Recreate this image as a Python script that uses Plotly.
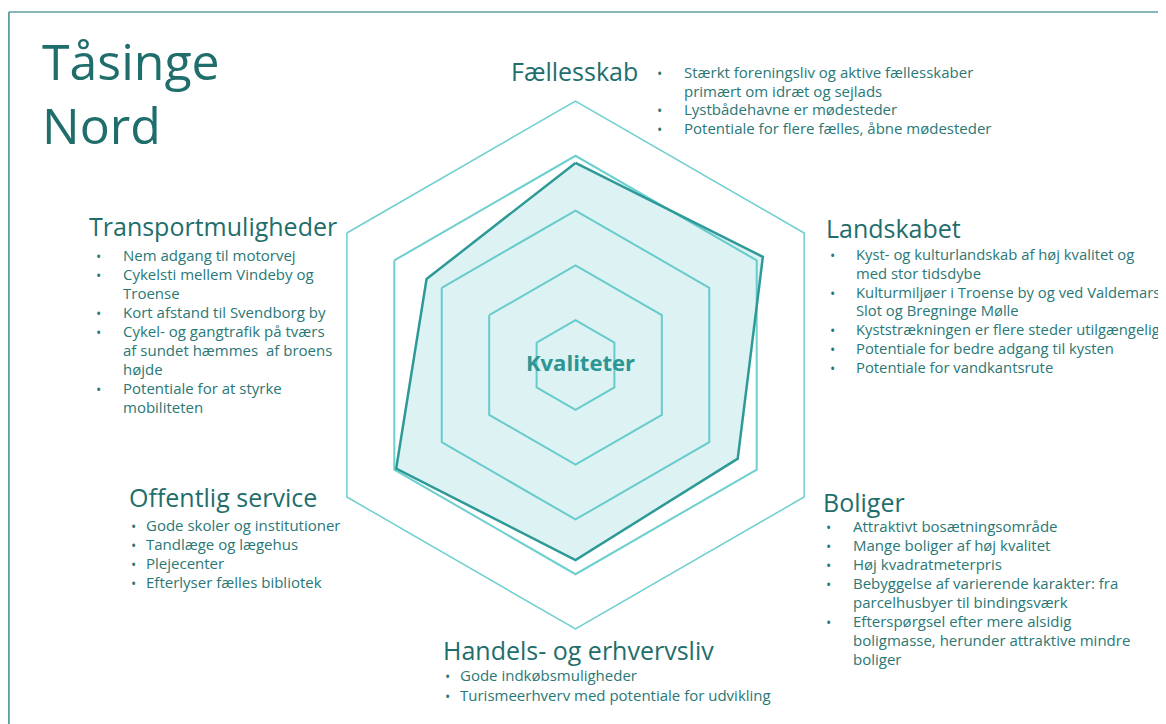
import plotly.graph_objects as go

# categories clockwise from the top
categories = ["Fællesskab", "Landskabet", "Boliger",
              "Handels- og erhvervsliv", "Offentlig service", "Transportmuligheder"]
scores = [3.87, 4.13, 3.6, 3.74, 3.96, 3.32]
rings = [1, 2, 3, 4, 5]

# bullet texts, "<br>" where the original wraps
faellesskab_points = ["Stærkt foreningsliv og aktive fællesskaber<br>primært om idræt og sejlads",
                      "Lystbådehavne er mødesteder",
                      "Potentiale for flere fælles, åbne mødesteder"]
landskab_points = ["Kyst- og kulturlandskab af høj kvalitet og<br>med stor tidsdybe",
                   "Kulturmiljøer i Troense by og ved Valdemars<br>Slot og Bregninge Mølle",
                   "Kyststrækningen er flere steder utilgængelige",
                   "Potentiale for bedre adgang til kysten",
                   "Potentiale for vandkantsrute"]
bolig_points = ["Attraktivt bosætningsområde",
                "Mange boliger af høj kvalitet",
                "Høj kvadratmeterpris",
                "Bebyggelse af varierende karakter: fra<br>parcelhusbyer til bindingsværk",
                "Efterspørgsel efter mere alsidig<br>boligmasse, herunder attraktive mindre<br>boliger"]
handel_points = ["Gode indkøbsmuligheder",
                 "Turismeerhverv med potentiale for udvikling"]
service_points = ["Gode skoler og institutioner",
                  "Tandlæge og lægehus",
                  "Plejecenter",
                  "Efterlyser fælles bibliotek"]
transport_points = ["Nem adgang til motorvej",
                    "Cykelsti mellem Vindeby og<br>Troense",
                    "Kort afstand til Svendborg by",
                    "Cykel- og gangtrafik på tværs<br>af sundet hæmmes  af broens<br>højde",
                    "Potentiale for at styrke<br>mobiliteten"]

# the page body has an 8px margin, so the figure is 8px smaller and shifted
OFF = 8
W, H = 1166 - OFF, 724 - OFF
DARK = "#1F6E6C"
TEXT = "#2A7876"
GRID = "#6DCFCF"
LINE = "#2E9A98"
FONT = "Open Sans"


def px(x):
    return (x - OFF) / W


def py(y):
    return 1 - (y - OFF) / H


fig = go.Figure()

fig.add_trace(go.Scatterpolar(
    r=scores + scores[:1],
    theta=categories + categories[:1],
    mode="lines",
    fill="toself",
    fillcolor="rgba(85,190,195,0.2)",
    line=dict(color=LINE, width=2.5),
    showlegend=False,
    hoverinfo="skip"
))

cx, cy, R = 575.5, 365, 264

fig.update_layout(
    width=W, height=H,
    margin=dict(l=0, r=0, t=0, b=0),
    paper_bgcolor="white",
    plot_bgcolor="white",
    showlegend=False,
    polar=dict(
        domain=dict(x=[px(cx - R), px(cx + R)], y=[py(cy + R), py(cy - R)]),
        gridshape="linear",
        bgcolor="rgba(0,0,0,0)",
        radialaxis=dict(range=[0.18, 5], tickvals=rings[:-1], showticklabels=False,
                        ticks="", showline=False, gridcolor=GRID, gridwidth=1.5),
        angularaxis=dict(rotation=90, direction="clockwise", showticklabels=False,
                         ticks="", showgrid=False, showline=True,
                         linecolor=GRID, linewidth=1.5),
    ),
)

anns = []

# title
anns.append(dict(x=px(40), y=py(61), text="Tåsinge", font=dict(size=50, color=DARK, family=FONT)))
anns.append(dict(x=px(40), y=py(125), text="Nord", font=dict(size=50, color=DARK, family=FONT)))

# centre label
anns.append(dict(x=px(cx + 5), y=py(362), xanchor="center", text="<b>Kvaliteter</b>",
                 font=dict(size=22, color="#2C9694", family=FONT)))

blocks = [
    # heading x, heading y, bullet x, text x, first line y, line step, text size, items
    (511, 71, 656, 683, 72, 18.7, 15, faellesskab_points),
    (826, 228, 829, 855, 254, 18.8, 14.8, landskab_points),
    (823, 502, 825, 852, 526, 19.0, 15, bolig_points),
    (443, 650, 444, 459, 675, 20.0, 15, handel_points),
    (129, 497, 130, 145, 525, 19.0, 15, service_points),
    (89, 226, 95, 122, 255, 19.0, 15, transport_points),
]

for cat, (hx, hy, bx, tx, y0, step, size, items) in zip(categories, blocks):
    anns.append(dict(x=px(hx - 2), y=py(hy), text=cat,
                     font=dict(size=25, color=DARK, family=FONT)))
    y = y0
    for item in items:
        anns.append(dict(x=px(bx - 1), y=py(y + 1.5), text="•",
                         font=dict(size=14, color=TEXT, family=FONT)))
        for part in item.split("<br>"):
            anns.append(dict(x=px(tx - 1), y=py(y), text=part,
                             font=dict(size=size, color=TEXT, family=FONT)))
            y += step

for a in anns:
    a.setdefault("xanchor", "left")
    a.update(xref="paper", yref="paper", yanchor="middle", showarrow=False)

fig.update_layout(annotations=anns)

# frame lines (top and left)
fig.add_shape(type="line", xref="paper", yref="paper", x0=px(8.8), y0=py(12), x1=1, y1=py(12),
              line=dict(color="#5E9E9C", width=1.5))
fig.add_shape(type="line", xref="paper", yref="paper", x0=px(8.8), y0=py(12), x1=px(8.8), y1=0,
              line=dict(color="#5E9E9C", width=2))

fig.write_html("out.html")
